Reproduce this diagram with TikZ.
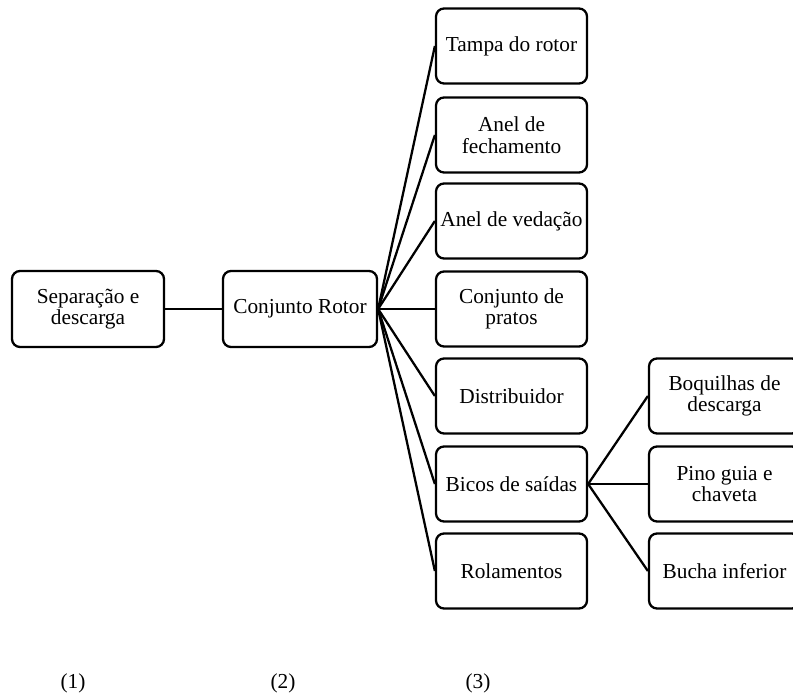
\documentclass[tikz,border=0pt]{standalone}
\usepackage{fontspec}
\setmainfont{Liberation Serif}
\begin{document}
\begin{tikzpicture}[x=0.75pt,y=-0.75pt,
  box/.style={draw=black,line width=1.7pt,rounded corners=6pt,align=center,
    inner sep=0pt,font=\fontsize{16}{16.2}\selectfont},
  col/.style={box,minimum width=113.25pt,minimum height=56.25pt},
  conn/.style={draw=black,line width=1.7pt},
  lab/.style={font=\fontsize{16}{16.2}\selectfont,inner sep=0pt}]
\useasboundingbox (0,0) rectangle (793,695);
\node[box,minimum width=114pt,minimum height=57pt] (sep) at (88,309) {Separação e\\descarga};
\node[box,minimum width=115.5pt,minimum height=57pt] (rot) at (300,309) {Conjunto Rotor};
\node[col] (tampa) at (511.5,46) {Tampa do rotor};
\node[col] (fech) at (511.5,135) {Anel de\\fechamento};
\node[col] (ved) at (511.5,221) {Anel de vedação};
\node[col] (prat) at (511.5,309) {Conjunto de\\pratos};
\node[col] (dist) at (511.5,396) {Distribuidor};
\node[col] (bicos) at (511.5,484) {Bicos de saídas};
\node[col] (rol) at (511.5,571) {Rolamentos};
\node[col] (boq) at (724.5,396) {Boquilhas de\\descarga};
\node[col] (pino) at (724.5,484) {Pino guia e\\chaveta};
\node[col] (buch) at (724.5,571) {Bucha inferior};
\draw[conn] (sep.east) -- (rot.west);
\foreach \t in {tampa,fech,ved,prat,dist,bicos,rol}
  \draw[conn] (rot.east) -- (\t.west);
\foreach \t in {boq,pino,buch}
  \draw[conn] (bicos.east) -- (\t.west);
\node[lab] (l1) at (73,683) {(1)};
\node[lab] (l2) at (283,683) {(2)};
\node[lab] (l3) at (478,683) {(3)};
\end{tikzpicture}
\end{document}
